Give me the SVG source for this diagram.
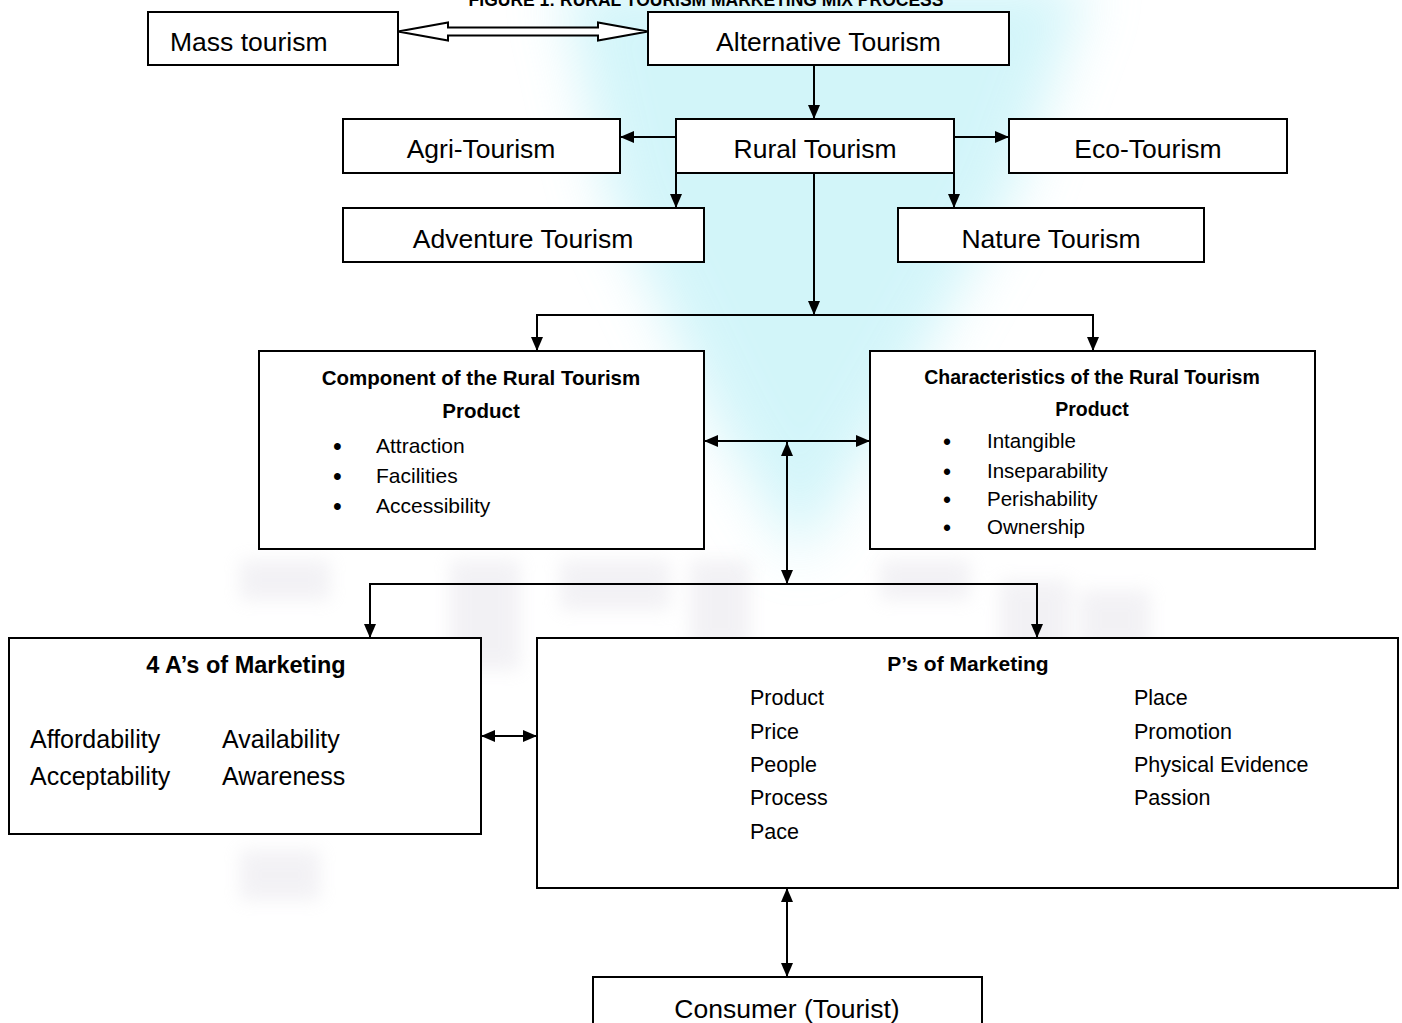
<svg xmlns="http://www.w3.org/2000/svg" width="1402" height="1023" viewBox="0 0 1402 1023">
<style>
.box{fill:#fff;stroke:#000;stroke-width:2}
.t{font-family:"Liberation Sans",Arial,sans-serif;fill:#000}
.big{font-size:26.5px}
.b{font-weight:bold}
.c{text-anchor:middle}
.bul{font-size:25px}
.bul2{font-size:23px}
.ln{fill:none;stroke:#000;stroke-width:2}
</style>
<defs>
<marker id="ah" markerUnits="userSpaceOnUse" markerWidth="14" markerHeight="12" viewBox="0 0 14 12" refX="14" refY="6" orient="auto-start-reverse">
<path d="M0,0 L14,6 L0,12 Z" fill="#000"/>
</marker>
<filter id="blur" x="-50%" y="-50%" width="200%" height="200%"><feGaussianBlur stdDeviation="28"/></filter>
<filter id="blur2" x="-50%" y="-50%" width="200%" height="200%"><feGaussianBlur stdDeviation="9"/></filter>
</defs>
<rect width="1402" height="1023" fill="#fff"/>
<g id="watermark">
<polygon points="560,-20 1090,-20 1010,200 880,430 800,560 720,430 610,200" fill="#c4f2f8" opacity="0.75" filter="url(#blur)"/>
<g fill="#d6d3de" opacity="0.3" filter="url(#blur2)">
<rect x="240" y="560" width="90" height="40"/>
<rect x="450" y="560" width="70" height="110"/>
<rect x="560" y="560" width="110" height="50"/>
<rect x="690" y="560" width="60" height="90"/>
<rect x="880" y="560" width="90" height="40"/>
<rect x="1000" y="580" width="70" height="80"/>
<rect x="1080" y="590" width="70" height="60"/>
<rect x="240" y="850" width="80" height="50"/>
</g>
</g>
<text class="t b c" x="706" y="5.5" font-size="17.5">FIGURE 1: RURAL TOURISM MARKETING MIX PROCESS</text>
<g id="mass">
<rect class="box" x="148" y="12" width="250" height="53"/>
<text class="t big" x="170" y="51">Mass tourism</text>
</g>
<g id="alternative">
<rect class="box" x="648" y="12" width="361" height="53"/>
<text class="t big c" x="828.5" y="51">Alternative Tourism</text>
</g>
<g id="agri">
<rect class="box" x="343" y="119" width="277" height="54"/>
<text class="t big c" x="481" y="158">Agri-Tourism</text>
</g>
<g id="rural">
<rect class="box" x="676" y="119" width="278" height="54"/>
<text class="t big c" x="815" y="158">Rural Tourism</text>
</g>
<g id="eco">
<rect class="box" x="1009" y="119" width="278" height="54"/>
<text class="t big c" x="1148" y="158">Eco-Tourism</text>
</g>
<g id="adventure">
<rect class="box" x="343" y="208" width="361" height="54"/>
<text class="t big c" x="523" y="248">Adventure Tourism</text>
</g>
<g id="nature">
<rect class="box" x="898" y="208" width="306" height="54"/>
<text class="t big c" x="1051" y="248">Nature Tourism</text>
</g>
<g id="component">
<rect class="box" x="259" y="351" width="445" height="198"/>
<text class="t b c" x="481" y="385" font-size="20.5">Component of the Rural Tourism</text>
<text class="t b c" x="481" y="417.5" font-size="20.5">Product</text>
<g class="t" font-size="21">
<text class="bul" x="333" y="455">•</text><text x="376" y="453">Attraction</text>
<text class="bul" x="333" y="485">•</text><text x="376" y="483">Facilities</text>
<text class="bul" x="333" y="515">•</text><text x="376" y="513">Accessibility</text>
</g>
</g>
<g id="characteristics">
<rect class="box" x="870" y="351" width="445" height="198"/>
<text class="t b c" x="1092" y="383.5" font-size="19.5">Characteristics of the Rural Tourism</text>
<text class="t b c" x="1092" y="415.5" font-size="19.5">Product</text>
<g class="t" font-size="20.5">
<text class="bul2" x="943" y="450">•</text><text x="987" y="448">Intangible</text>
<text class="bul2" x="943" y="479.5">•</text><text x="987" y="477.5">Inseparability</text>
<text class="bul2" x="943" y="508">•</text><text x="987" y="506">Perishability</text>
<text class="bul2" x="943" y="535.5">•</text><text x="987" y="533.5">Ownership</text>
</g>
</g>
<g id="four-as">
<rect class="box" x="9" y="638" width="472" height="196"/>
<text class="t b c" x="246" y="673" font-size="23.5">4 A’s of Marketing</text>
<g class="t" font-size="25">
<text x="30" y="748">Affordability</text>
<text x="222" y="748">Availability</text>
<text x="30" y="785">Acceptability</text>
<text x="222" y="785">Awareness</text>
</g>
</g>
<g id="ps">
<rect class="box" x="537" y="638" width="861" height="250"/>
<text class="t b c" x="968" y="671" font-size="21">P’s of Marketing</text>
<g class="t" font-size="21.5">
<text x="750" y="704.5">Product</text>
<text x="750" y="738.5">Price</text>
<text x="750" y="772">People</text>
<text x="750" y="805">Process</text>
<text x="750" y="839">Pace</text>
<text x="1134" y="704.5">Place</text>
<text x="1134" y="738.5">Promotion</text>
<text x="1134" y="772">Physical Evidence</text>
<text x="1134" y="805">Passion</text>
</g>
</g>
<g id="consumer">
<rect class="box" x="593" y="977" width="389" height="60"/>
<text class="t big c" x="787" y="1017.5">Consumer (Tourist)</text>
</g>
<g id="connectors">
<polygon points="398,31.5 448,22.5 448,27.5 598,27.5 598,22.5 648,31.5 598,40.5 598,35.5 448,35.5 448,40.5" fill="#fff" stroke="#000" stroke-width="2" stroke-linejoin="miter"/>
<path class="ln" d="M814,65 V119" marker-end="url(#ah)"/>
<path class="ln" d="M676,137 H620" marker-end="url(#ah)"/>
<path class="ln" d="M954,137 H1009" marker-end="url(#ah)"/>
<path class="ln" d="M676,173 V208" marker-end="url(#ah)"/>
<path class="ln" d="M954,173 V208" marker-end="url(#ah)"/>
<path class="ln" d="M814,173 V315" marker-end="url(#ah)"/>
<path class="ln" d="M814,315 H537 V351" marker-end="url(#ah)"/>
<path class="ln" d="M814,315 H1093 V351" marker-end="url(#ah)"/>
<path class="ln" d="M704,441 H870" marker-start="url(#ah)" marker-end="url(#ah)"/>
<path class="ln" d="M787,442 V584" marker-start="url(#ah)" marker-end="url(#ah)"/>
<path class="ln" d="M787,584 H370 V638" marker-end="url(#ah)"/>
<path class="ln" d="M787,584 H1037 V638" marker-end="url(#ah)"/>
<path class="ln" d="M481,736 H537" marker-start="url(#ah)" marker-end="url(#ah)"/>
<path class="ln" d="M787,888 V977" marker-start="url(#ah)" marker-end="url(#ah)"/>
</g>
</svg>
